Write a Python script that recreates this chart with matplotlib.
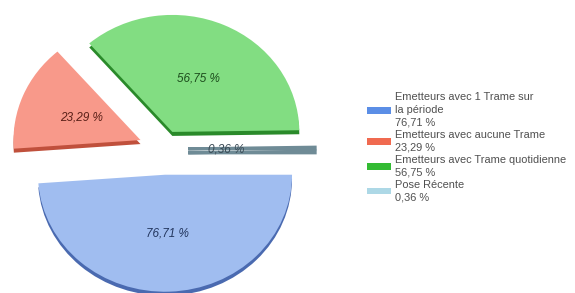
"""Exploded pie of emitter frame counts, with a fake 3D rim."""
import matplotlib
matplotlib.use("Agg")
import matplotlib.pyplot as plt
from matplotlib.patches import Patch

plt.rcParams['font.family'] = ['Liberation Sans', 'DejaVu Sans']

# Data
categories = ['Emetteurs avec 1 Trame sur\nla période',
              'Emetteurs avec aucune Trame',
              'Emetteurs avec Trame quotidienne',
              'Pose Récente']
values = [76.71, 23.29, 56.75, 0.36]
value_labels = ['76,71 %', '23,29 %', '56,75 %', '0,36 %']

# Styles
face_colors = ['#a0bdf0', '#f8998a', '#82dd82', '#6f8b96']
rim_colors = ['#4a6ab0', '#c0503c', '#2a8a2a', '#6f8b96']
text_colors = ['#23365e', '#5a2018', '#1d4d1d', '#3a4a55']
legend_colors = ['#5b8ee6', '#f06a50', '#33bb33', '#add8e6']
explode = [0.22, 0.2, 0.16, 0.19]

W, H = 575, 293
cx, cy = 164, 144          # pie centre in pixels (from bottom-left)
rx, ry = 127, 117          # horizontal / vertical radius in pixels
depth = 4                  # rim thickness in pixels

fig = plt.figure(figsize=(W / 100, H / 100), dpi=100)
ax = fig.add_axes([0, 0, 1, 1])

# darker copy shifted down gives the 3D rim
rims, _ = ax.pie(values, explode=explode, startangle=0, counterclock=False,
                 colors=rim_colors, center=(0, -depth / ry),
                 wedgeprops=dict(linewidth=0))
wedges, texts = ax.pie(values, explode=explode, startangle=0,
                       counterclock=False, colors=face_colors,
                       labels=value_labels, labeldistance=0.5,
                       wedgeprops=dict(linewidth=0))

# the tiny slice is seen edge-on: thicken it into a flat bar
for w in (rims[3], wedges[3]):
    w.set_edgecolor(rim_colors[3])
    w.set_linewidth(2.2)

for i, t in enumerate(texts):
    t.set_ha('center')
    t.set_va('center')
    t.set_fontstyle('italic')
    t.set_fontsize(8.5)
    t.set_color(text_colors[i])

# the thin slice label sits closer to its apex
x, y = texts[3].get_position()
texts[3].set_position((x * 0.6 + explode[3] * 0.4, y - 1.5 / ry))

ax.set_aspect('auto')
ax.set_xlim(-cx / rx, (W - cx) / rx)
ax.set_ylim(-cy / ry, (H - cy) / ry)
ax.axis('off')

handles = [Patch(facecolor=c, edgecolor='none') for c in legend_colors]
legend_labels = [c + '\n' + v for c, v in zip(categories, value_labels)]
leg = fig.legend(handles, legend_labels, loc='upper left',
                 bbox_to_anchor=(362 / W, 1 - 87 / H), frameon=False,
                 fontsize=7.9, handlelength=2.1, handleheight=0.55,
                 handletextpad=0.45, labelspacing=0.2, borderpad=0,
                 labelcolor='#505050')
for t in leg.get_texts():
    t.set_linespacing(1.33)

fig.savefig('out.png', dpi=100)
